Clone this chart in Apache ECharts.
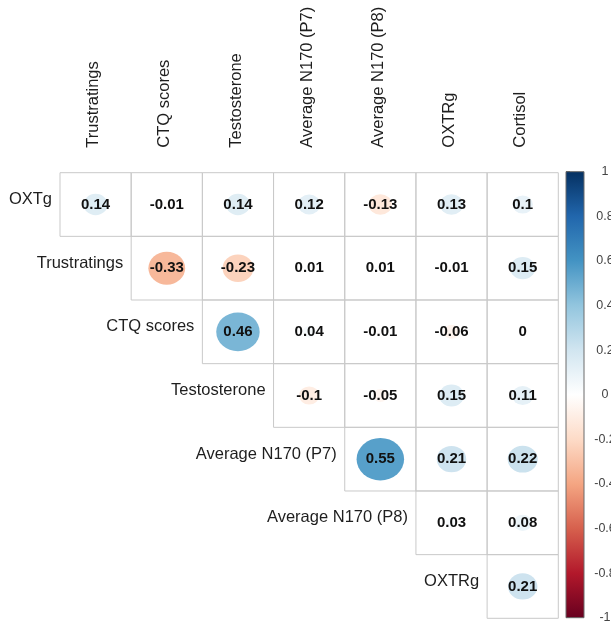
<!DOCTYPE html>
<html>
<head>
<meta charset="utf-8">
<script src="https://cdn.jsdelivr.net/npm/echarts@6/dist/echarts.min.js"></script>
<style>
  html, body { margin: 0; padding: 0; background: #ffffff; }
  #chart { width: 611px; height: 624px; }
</style>
</head>
<body>
<div id="chart"></div>
<script>
// Variables (rows run down the left staircase, columns across the top)
const rowNames = ['OXTg', 'Trustratings', 'CTQ scores', 'Testosterone',
  'Average N170 (P7)', 'Average N170 (P8)', 'OXTRg'];
const colNames = ['Trustratings', 'CTQ scores', 'Testosterone',
  'Average N170 (P7)', 'Average N170 (P8)', 'OXTRg', 'Cortisol'];

// Correlations per row; row i starts at column i
const rOXTg = [0.14, -0.01, 0.14, 0.12, -0.13, 0.13, 0.1];
const rTrustratings = [-0.33, -0.23, 0.01, 0.01, -0.01, 0.15];
const rCTQ = [0.46, 0.04, -0.01, -0.06, 0];
const rTestosterone = [-0.1, -0.05, 0.15, 0.11];
const rN170P7 = [0.55, 0.21, 0.22];
const rN170P8 = [0.03, 0.08];
const rOXTRg = [0.21];
const rows = [rOXTg, rTrustratings, rCTQ, rTestosterone, rN170P7, rN170P8, rOXTRg];

// Colour scale from -1 to 1
const scaleMin = -1, scaleMax = 1, scaleStep = 0.2;
const rdbu = ['#67001F', '#B2182B', '#D6604D', '#F4A582', '#FDDBC7', '#FFFFFF',
  '#D1E5F0', '#92C5DE', '#4393C3', '#2166AC', '#053061'];

const cells = [];
rows.forEach((vals, i) => {
  vals.forEach((v, k) => cells.push([i + k, i, v]));
});

const FONT = "'Liberation Sans', Arial, sans-serif";
const chart = echarts.init(document.getElementById('chart'), null, { renderer: 'canvas' });

function renderCell(params, api) {
  const col = api.value(0), row = api.value(1), v = api.value(2);
  const c = api.coord([col, row]);
  const s = api.size([1, 1]);
  const w = s[0], h = s[1];
  const children = [{
    type: 'rect',
    shape: { x: c[0] - w / 2, y: c[1] - h / 2, width: w, height: h },
    style: { fill: 'none', stroke: '#c9c9c9', lineWidth: 1 }
  }];
  const r = 0.45 * Math.sqrt(Math.abs(v)) * h;
  if (r > 0) {
    children.push({
      type: 'circle',
      x: c[0], y: c[1], scaleX: w / h, scaleY: 1,
      shape: { cx: 0, cy: 0, r: r },
      style: { fill: api.visual('color') }
    });
  }
  children.push({
    type: 'text',
    x: c[0], y: c[1],
    style: {
      text: String(v), align: 'center', verticalAlign: 'middle',
      fontFamily: FONT, fontWeight: 'bold', fontSize: 15, fill: '#111'
    }
  });
  // row name sits just left of the first cell of its row
  if (col === row) {
    children.push({
      type: 'text',
      x: c[0] - w / 2 - 8, y: c[1] - 5,
      style: {
        text: rowNames[row], align: 'right', verticalAlign: 'middle',
        fontFamily: FONT, fontSize: 16.5, fill: '#1e1e1e'
      }
    });
  }
  // column names, vertical, above the top row
  if (row === 0) {
    children.push({
      type: 'text',
      x: c[0] - 2, y: c[1] - h / 2 - 25,
      rotation: Math.PI / 2,
      style: {
        text: colNames[col], align: 'left', verticalAlign: 'middle',
        fontFamily: FONT, fontSize: 16.5, fill: '#1e1e1e'
      }
    });
  }
  return { type: 'group', children: children };
}

function renderBar(params, api) {
  const a = api.coord([0, scaleMax]);
  const b = api.coord([1, scaleMin]);
  const stops = rdbu.map((col, i) => ({ offset: 1 - i / (rdbu.length - 1), color: col }));
  return {
    type: 'rect',
    shape: { x: a[0], y: a[1], width: b[0] - a[0], height: b[1] - a[1] },
    style: {
      fill: new echarts.graphic.LinearGradient(0, 0, 0, 1, stops),
      stroke: '#6a6a6a', lineWidth: 1
    }
  };
}

chart.setOption({
  backgroundColor: '#ffffff',
  animation: false,
  grid: [
    { left: 60, top: 172.7, width: 498.3, height: 445.6, outerBoundsMode: 'none', containLabel: false },
    { left: 566, top: 171.7, width: 18, height: 446, outerBoundsMode: 'none', containLabel: false }
  ],
  xAxis: [
    { gridIndex: 0, type: 'category', data: colNames, show: false },
    { gridIndex: 1, type: 'value', min: 0, max: 1, show: false }
  ],
  yAxis: [
    { gridIndex: 0, type: 'category', data: rowNames, inverse: true, show: false },
    {
      gridIndex: 1, type: 'value', min: scaleMin, max: scaleMax, interval: scaleStep,
      position: 'right',
      axisLine: { show: false },
      axisTick: { show: true, length: 4, lineStyle: { color: '#555' } },
      splitLine: { show: false },
      axisLabel: {
        margin: 21, align: 'center', fontFamily: FONT, fontSize: 12.5, color: '#444',
        formatter: v => String(Math.round(v * 10) / 10)
      }
    }
  ],
  visualMap: {
    show: false, type: 'continuous', min: scaleMin, max: scaleMax,
    dimension: 2, seriesIndex: 0, inRange: { color: rdbu }
  },
  series: [
    {
      type: 'custom', xAxisIndex: 0, yAxisIndex: 0, clip: false,
      renderItem: renderCell, data: cells
    },
    {
      type: 'custom', xAxisIndex: 1, yAxisIndex: 1, clip: false,
      renderItem: renderBar, data: [[0, 0]]
    }
  ]
});
</script>
</body>
</html>
